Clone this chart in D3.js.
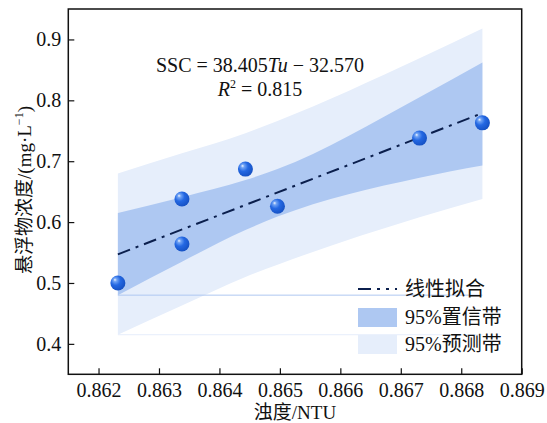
<!DOCTYPE html>
<html>
<head>
<meta charset="utf-8">
<script src="https://cdn.jsdelivr.net/npm/d3@7"></script>
<style>
  body { margin: 0; background: #fff; }
  text { font-family: "Times New Roman", "Liberation Serif", "Noto Sans CJK SC", serif; fill: #111; }
</style>
</head>
<body>
<div id="chart"></div>
<script>
// measured points
const tu = [0.86232, 0.86338, 0.86338, 0.86443, 0.86496, 0.86731, 0.86835];
const ssc = [0.500, 0.638, 0.564, 0.687, 0.626, 0.738, 0.763];

// band edges at the sorted x positions
const bandX = [0.86232, 0.86338, 0.86443, 0.86496, 0.86731, 0.86835];
const confHi = [0.615, 0.641, 0.669, 0.687, 0.805, 0.862];
const confLo = [0.480, 0.535, 0.587, 0.609, 0.673, 0.693];
const predHi = [0.680, 0.713, 0.746, 0.766, 0.869, 0.918];
const predLo = [0.415, 0.463, 0.510, 0.530, 0.608, 0.638];

// fitted line ends
const fitX = [0.86232, 0.86835];
const fitY = [0.547, 0.779];

const xTicks = [0.862, 0.863, 0.864, 0.865, 0.866, 0.867, 0.868, 0.869];
const yTicks = [0.4, 0.5, 0.6, 0.7, 0.8, 0.9];
const legendLabels = ['线性拟合', '95%置信带', '95%预测带'];

const width = 547;
const height = 423;
const margin = { left: 68.3, right: 25.3, top: 9, bottom: 48.7 };

const confColor = '#aec8f2';
const predColor = '#e6eefb';
const lineColor = '#0b1f4d';

const svg = d3.select('#chart')
  .append('svg')
  .attr('width', width)
  .attr('height', height);

const xScale = d3.scaleLinear()
  .domain([0.8615, 0.869])
  .range([margin.left, width - margin.right]);

const yScale = d3.scaleLinear()
  .domain([0.35, 0.95])
  .range([height - margin.bottom, margin.top]);

const defs = svg.append('defs');
const grad = defs.append('radialGradient')
  .attr('id', 'ball')
  .attr('cx', '40%').attr('cy', '38%').attr('r', '65%')
  .attr('fx', '30%').attr('fy', '28%');
grad.append('stop').attr('offset', '0%').attr('stop-color', '#eef4ff');
grad.append('stop').attr('offset', '18%').attr('stop-color', '#6fa2f4');
grad.append('stop').attr('offset', '50%').attr('stop-color', '#2468e3');
grad.append('stop').attr('offset', '100%').attr('stop-color', '#1550c2');

const bandRows = bandX.map((x, i) => ({ x, cLo: confLo[i], cHi: confHi[i], pLo: predLo[i], pHi: predHi[i] }));

const area = (lo, hi) => d3.area()
  .curve(d3.curveMonotoneX)
  .x((d) => xScale(d.x))
  .y0((d) => yScale(d[lo]))
  .y1((d) => yScale(d[hi]));

svg.append('path')
  .datum(bandRows)
  .attr('fill', predColor)
  .attr('d', area('pLo', 'pHi'));

svg.append('path')
  .datum(bandRows)
  .attr('fill', confColor)
  .attr('d', area('cLo', 'cHi'));

// thin closing edges left by the band polygons
const x0 = bandX[0];
const x1 = bandX[bandX.length - 1];
svg.append('line')
  .attr('x1', xScale(x0)).attr('x2', xScale(x1))
  .attr('y1', yScale(confLo[0])).attr('y2', yScale(confLo[0]))
  .attr('stroke', confColor).attr('stroke-width', 1);
svg.append('line')
  .attr('x1', xScale(x0)).attr('x2', xScale(x1))
  .attr('y1', yScale(predLo[0])).attr('y2', yScale(predLo[0]))
  .attr('stroke', predColor).attr('stroke-width', 1);

const dashPattern = '13,6,3,6';

svg.append('path')
  .datum(fitX.map((x, i) => [x, fitY[i]]))
  .attr('fill', 'none')
  .attr('stroke', lineColor)
  .attr('stroke-width', 2)
  .attr('stroke-dasharray', dashPattern)
  .attr('d', d3.line().x((d) => xScale(d[0])).y((d) => yScale(d[1])));

svg.append('g')
  .selectAll('circle')
  .data(tu.map((x, i) => [x, ssc[i]]))
  .join('circle')
  .attr('cx', (d) => xScale(d[0]))
  .attr('cy', (d) => yScale(d[1]))
  .attr('r', 7.5)
  .attr('fill', 'url(#ball)');

// axes with inward ticks
const xAxis = (g) => {
  g.attr('transform', `translate(0, ${height - margin.bottom})`)
    .call(d3.axisBottom(xScale).tickValues(xTicks).tickFormat(d3.format('.3f'))
      .tickSizeInner(-6).tickSizeOuter(0).tickPadding(9));
};
const yAxis = (g) => {
  g.attr('transform', `translate(${margin.left}, 0)`)
    .call(d3.axisLeft(yScale).tickValues(yTicks).tickFormat(d3.format('.1f'))
      .tickSizeInner(-6).tickSizeOuter(0).tickPadding(7));
};
svg.append('g').call(xAxis);
svg.append('g').call(yAxis);

svg.selectAll('.domain').remove();
svg.selectAll('.tick line').attr('stroke', '#111').attr('stroke-width', 1.2);
svg.selectAll('.tick text')
  .attr('font-size', 20)
  .attr('fill', '#111');

svg.append('rect')
  .attr('x', margin.left)
  .attr('y', margin.top)
  .attr('width', width - margin.left - margin.right)
  .attr('height', height - margin.top - margin.bottom)
  .attr('fill', 'none')
  .attr('stroke', '#111')
  .attr('stroke-width', 1.5);

// equation
const eq = svg.append('text')
  .attr('x', 260).attr('y', 72)
  .attr('text-anchor', 'middle')
  .attr('font-size', 20);
eq.append('tspan').text('SSC = 38.405');
eq.append('tspan').attr('font-style', 'italic').text('Tu');
eq.append('tspan').text(' \u2212 32.570');

const r2 = svg.append('text')
  .attr('x', 260).attr('y', 96)
  .attr('text-anchor', 'middle')
  .attr('font-size', 20);
r2.append('tspan').attr('font-style', 'italic').text('R');
r2.append('tspan').attr('font-size', 12).attr('dy', -8).text('2');
r2.append('tspan').attr('dy', 8).text(' = 0.815');

// axis titles
svg.append('text')
  .attr('text-anchor', 'middle')
  .attr('x', 295)
  .attr('y', 419)
  .attr('font-size', 19)
  .text('浊度/NTU');

const yl = svg.append('text')
  .attr('text-anchor', 'middle')
  .attr('transform', 'translate(31, 190) rotate(-90)')
  .attr('font-size', 19);
yl.append('tspan').text('悬浮物浓度/(mg·L');
yl.append('tspan').attr('font-size', 12).attr('dy', -8).text('\u22121');
yl.append('tspan').attr('dy', 8).text(')');

// legend
const lg = svg.append('g').attr('transform', 'translate(358, 280)');
lg.append('line')
  .attr('x1', 0).attr('x2', 39).attr('y1', 9).attr('y2', 9)
  .attr('stroke', lineColor).attr('stroke-width', 2)
  .attr('stroke-dasharray', '13,6,3,6,3,6');
lg.append('rect').attr('x', 0).attr('y', 28).attr('width', 39).attr('height', 19).attr('fill', confColor);
lg.append('rect').attr('x', 0).attr('y', 55).attr('width', 39).attr('height', 19).attr('fill', predColor);
lg.selectAll('text.lab')
  .data(legendLabels)
  .join('text')
  .attr('class', 'lab')
  .attr('x', 47)
  .attr('y', (d, i) => 16 + i * 27.5)
  .attr('font-size', 20)
  .text((d) => d);
</script>
</body>
</html>
